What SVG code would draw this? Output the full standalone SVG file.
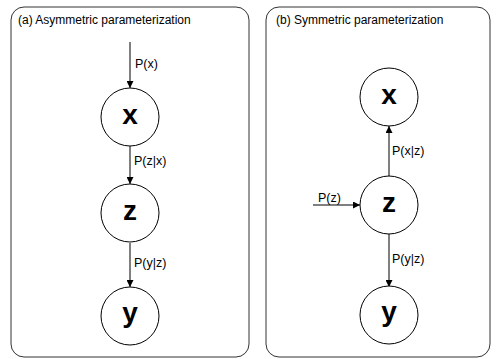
<svg xmlns="http://www.w3.org/2000/svg" width="498" height="359" viewBox="0 0 498 359">
<style>
.panel{fill:none;stroke:#333;stroke-width:1}
.node{fill:#fff;stroke:#000;stroke-width:1}
.nt{font-family:"Liberation Sans",Arial,sans-serif;font-weight:bold;font-size:28px;text-anchor:middle;fill:#000}
.lbl{font-family:"Liberation Sans",Arial,sans-serif;font-size:12.5px;fill:#000}
.title{font-family:"Liberation Sans",Arial,sans-serif;font-size:12px;fill:#000}
.edge{stroke:#000;stroke-width:1;fill:none;marker-end:url(#ah)}
</style>
<defs>
<marker id="ah" viewBox="0 0 10 10" refX="10" refY="5" markerWidth="7" markerHeight="7" markerUnits="userSpaceOnUse" orient="auto">
<path d="M0,0 L10,5 L0,10 z" fill="#000"/>
</marker>
</defs>
<rect fill="#fff" x="0" y="0" width="498" height="359"/>
<g id="panel-a">
<rect class="panel" x="11" y="7" width="238" height="350" rx="13"/>
<text class="title" x="18" y="24">(a) Asymmetric parameterization</text>
</g>
<g id="panel-b">
<rect class="panel" x="266" y="7" width="224" height="350" rx="13"/>
<text class="title" x="276" y="24">(b) Symmetric parameterization</text>
</g>
<g id="connectors">
<line class="edge" x1="130" y1="42" x2="130" y2="88"/>
<line class="edge" x1="130" y1="146" x2="130" y2="184"/>
<line class="edge" x1="130" y1="243" x2="130" y2="287"/>
<line class="edge" x1="389" y1="176" x2="389" y2="126"/>
<line class="edge" x1="313" y1="205" x2="360" y2="205"/>
<line class="edge" x1="389" y1="234" x2="389" y2="287"/>
<text class="lbl" x="135" y="68">P(x)</text>
<text class="lbl" x="134" y="165">P(z|x)</text>
<text class="lbl" x="134" y="267">P(y|z)</text>
<text class="lbl" x="392" y="155">P(x|z)</text>
<text class="lbl" x="318" y="202">P(z)</text>
<text class="lbl" x="392" y="263">P(y|z)</text>
</g>
<g id="node-a-x"><circle class="node" cx="130" cy="117" r="29"/><text class="nt" x="130" y="124">x</text></g>
<g id="node-a-z"><circle class="node" cx="130" cy="213" r="29"/><text class="nt" x="130" y="220">z</text></g>
<g id="node-a-y"><circle class="node" cx="130" cy="316" r="29"/><text class="nt" x="130" y="322">y</text></g>
<g id="node-b-x"><circle class="node" cx="389" cy="97" r="29"/><text class="nt" x="389" y="104">x</text></g>
<g id="node-b-z"><circle class="node" cx="389" cy="205" r="29"/><text class="nt" x="389" y="212">z</text></g>
<g id="node-b-y"><circle class="node" cx="389" cy="315" r="29"/><text class="nt" x="389" y="321">y</text></g>
</svg>
